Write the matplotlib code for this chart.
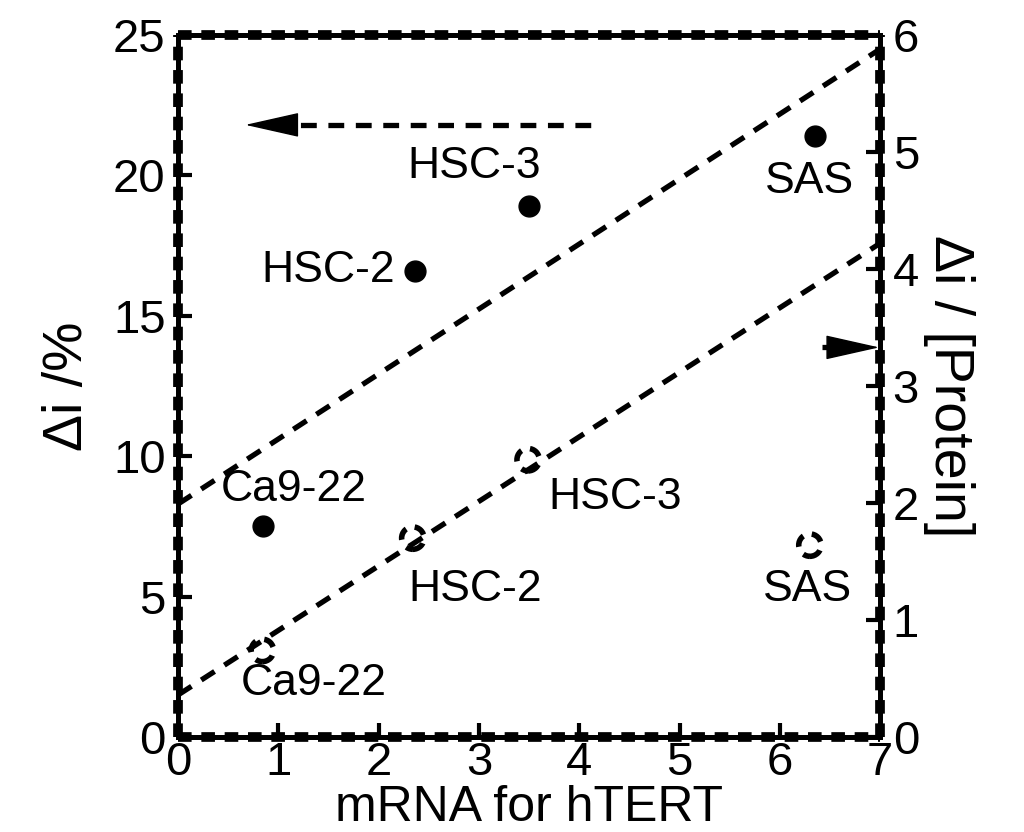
import matplotlib
matplotlib.use("Agg")
import matplotlib.pyplot as plt
import numpy as np

plt.rcParams['font.family'] = ['Liberation Sans', 'DejaVu Sans']

# cell lines, mRNA level for hTERT and the two responses
cells = ['Ca9-22', 'HSC-2', 'HSC-3', 'SAS']
mrna_pct = [0.85, 2.36, 3.50, 6.35]
di_pct = [7.5, 16.6, 18.9, 21.4]
mrna_prot = [0.84, 2.34, 3.49, 6.30]
di_prot = [0.74, 1.70, 2.37, 1.64]

# straight fit lines (end points at x = 0 and x = 7)
fit_x = [0, 7]
fit_pct = [8.3, 24.5]
fit_prot = [0.36, 4.22]

# label centres, x in mRNA units, y in each axis' own units
lab_pct = [(1.15, 8.8), (1.5, 16.6), (2.95, 20.3), (6.3, 19.8)]
lab_prot = [(1.35, 0.46), (2.96, 1.26), (4.36, 2.05), (6.28, 1.26)]

fig = plt.figure(figsize=(10.24, 8.32), dpi=100)
ax = fig.add_axes([0.174, 0.1142, 0.6855, 0.8437])
ax2 = ax.twinx()

fs = 32
dash = (0, (3, 2.2))
ax.plot(fit_x, fit_pct, ls=dash, color='black', lw=3.8)
ax.plot(mrna_pct, di_pct, 'o', color='black', ms=15)
for (lx, ly), name in zip(lab_pct, cells):
    ax.text(lx, ly, name, fontsize=fs, ha='center', va='center')

ax2.plot(fit_x, fit_prot, ls=dash, color='black', lw=3.8)
ax2.scatter(mrna_prot, di_prot, s=260, facecolors='none', edgecolors='black',
            linewidths=4, linestyle=(0, (2.2, 1.6)), zorder=3)
for (lx, ly), name in zip(lab_prot, cells):
    ax2.text(lx, ly, name, fontsize=fs, ha='center', va='center')

# arrows pointing at the matching axis: dashed shaft + solid head
head = dict(arrowstyle='-|>,head_length=1.6,head_width=0.36', mutation_scale=22,
            lw=1, color='black', shrinkA=0, shrinkB=0)
ax.plot([0.95, 4.17], [21.8, 21.8], ls=dash, color='black', lw=3.8)
ax.annotate('', xy=(0.67, 21.8), xytext=(1.0, 21.8), arrowprops=head)
ax2.plot([6.42, 6.75], [3.33, 3.33], ls=dash, color='black', lw=3.8)
ax2.annotate('', xy=(6.99, 3.33), xytext=(6.66, 3.33), arrowprops=head)

ax.set_xlim(0, 7)
ax.set_ylim(0, 25)
ax2.set_ylim(0, 6)
ax.set_xticks(range(0, 8))
ax.set_yticks(range(0, 26, 5))
ax2.set_yticks(range(0, 7))

ax.set_xlabel('mRNA for hTERT', fontsize=36, labelpad=0)
ax.set_ylabel('Δi /%', fontsize=40, labelpad=14)
ax2.set_ylabel('Δi / [Protein]', fontsize=40, rotation=270, labelpad=40)

for a in (ax, ax2):
    a.tick_params(direction='in', length=10, width=3, labelsize=34, pad=9)
    for s in a.spines.values():
        s.set_linewidth(3.5)
ax.tick_params(axis='x', pad=3)

# dashed overlay along the frame
for xs, ys in [([0, 1], [0, 0]), ([0, 1], [1, 1]), ([0, 0], [0, 1]), ([1, 1], [0, 1])]:
    ax.plot(xs, ys, transform=ax.transAxes, color='black', lw=7,
            ls=(0, (1.4, 1.0)), clip_on=False, solid_capstyle='butt')

fig.savefig('out.png', dpi=100)
